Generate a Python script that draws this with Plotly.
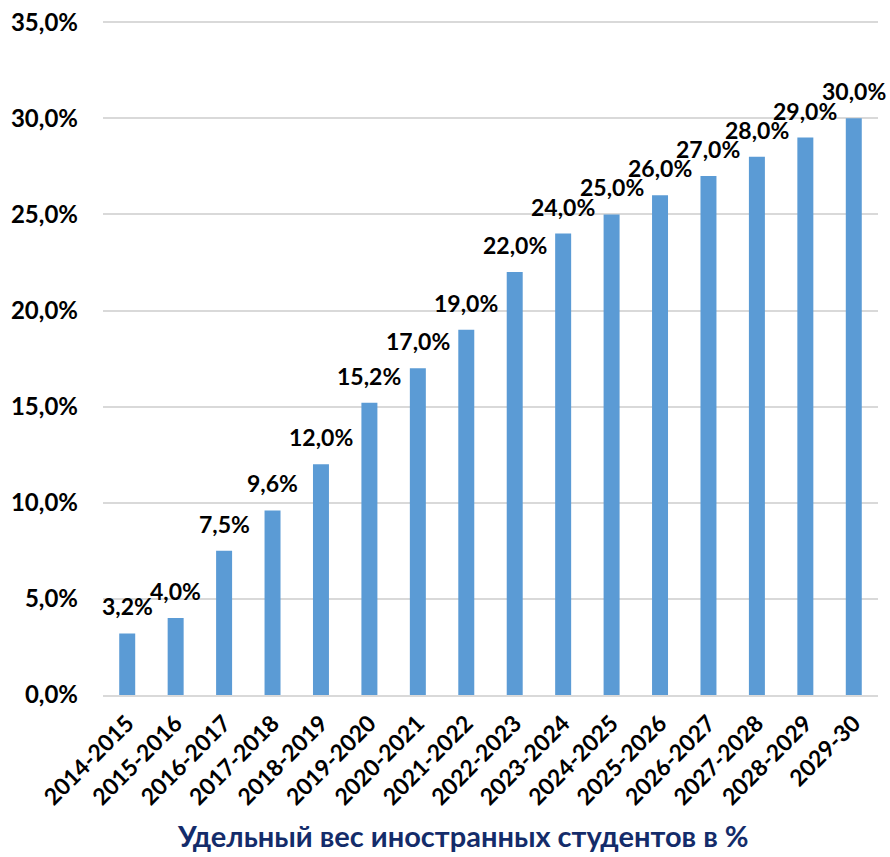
import plotly.graph_objects as go

categories = ["2014-2015", "2015-2016", "2016-2017", "2017-2018", "2018-2019",
              "2019-2020", "2020-2021", "2021-2022", "2022-2023", "2023-2024",
              "2024-2025", "2025-2026", "2026-2027", "2027-2028", "2028-2029", "2029-30"]
values = [3.2, 4.0, 7.5, 9.6, 12.0, 15.2, 17.0, 19.0, 22.0, 24.0,
          25.0, 26.0, 27.0, 28.0, 29.0, 30.0]
y_ticks = [0, 5, 10, 15, 20, 25, 30, 35]
y_tick_labels = [f"{v:.1f}%".replace(".", ",") for v in y_ticks]
value_labels = [f"{v:.1f}%".replace(".", ",") for v in values]
title_text = "Удельный вес иностранных студентов в %"

FONT = "Lato"

fig = go.Figure(go.Bar(
    x=categories, y=values,
    marker=dict(color="#5B9BD5", line=dict(width=0)),
    cliponaxis=False,
))

annotations = [dict(x=c, y=v, text=t, xref="x", yref="y", showarrow=False,
                    xanchor="center", yanchor="bottom", yshift=11,
                    font=dict(family=FONT, size=23, color="#000000", weight="bold"))
               for c, v, t in zip(categories, values, value_labels)]
annotations.append(dict(text=title_text, xref="paper", yref="paper", x=0.465, y=0,
                        yshift=-140, xanchor="center", yanchor="middle", showarrow=False,
                        font=dict(family=FONT, size=29, color="#142C6A", weight="bold")))

fig.update_layout(
    width=890, height=857,
    margin=dict(l=103, r=12, t=21, b=162, autoexpand=False),
    plot_bgcolor="white", paper_bgcolor="white",
    bargap=0.67, showlegend=False,
    font=dict(family=FONT, color="#000000"),
    xaxis=dict(tickangle=-45, showline=True, linecolor="#D9D9D9", linewidth=1.5,
               range=[-0.5, len(categories) - 0.5],
               ticks="", ticklabelstandoff=4, automargin=False,
               tickfont=dict(family=FONT, size=23, color="#000000", weight="bold")),
    yaxis=dict(range=[0, 35.06], tickvals=y_ticks, ticktext=y_tick_labels,
               showgrid=True, gridcolor="#D9D9D9", gridwidth=1.5, zeroline=False,
               ticks="", ticklabelstandoff=24, automargin=False,
               tickfont=dict(family=FONT, size=24, color="#000000", weight="bold")),
    annotations=annotations,
)

fig.write_html("out.html")
